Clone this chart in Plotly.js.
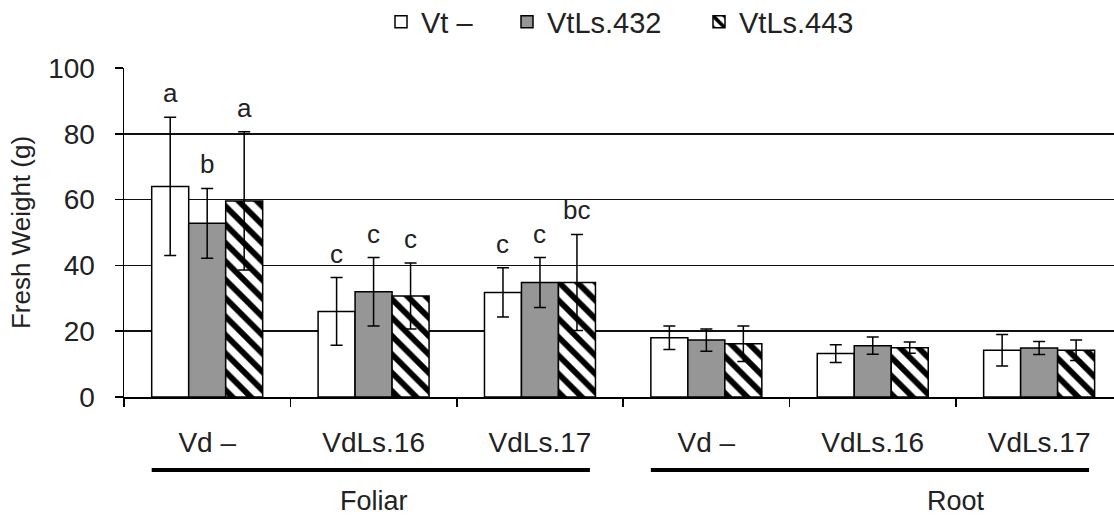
<!DOCTYPE html>
<html>
<head>
<meta charset="utf-8">
<script src="https://cdn.plot.ly/plotly-3.0.1.min.js"></script>
<style>html,body{margin:0;padding:0;background:#fff;}#chart{width:1114px;height:520px;}</style>
</head>
<body>
<div id="chart"></div>
<script>
// ---- data ----
const categories = ["Vd –", "VdLs.16", "VdLs.17", "Vd –", "VdLs.16", "VdLs.17"];
const groups = ["Foliar", "Foliar", "Foliar", "Root", "Root", "Root"];
const seriesNames = ["Vt –", "VtLs.432", "VtLs.443"];

const vtMinus = [64.0, 26.0, 31.8, 18.0, 13.2, 14.2];
const vtMinusErr = [21.0, 10.3, 7.5, 3.6, 2.7, 4.8];
const vtLs432 = [52.8, 32.0, 34.8, 17.3, 15.6, 14.9];
const vtLs432Err = [10.6, 10.4, 7.6, 3.4, 2.6, 2.0];
const vtLs443 = [59.6, 30.7, 34.8, 16.2, 15.0, 14.2];
const vtLs443Err = [21.0, 10.0, 14.6, 5.4, 1.7, 3.1];

const lettersVt = ["a", "c", "c", "", "", ""];
const letters432 = ["b", "c", "c", "", "", ""];
const letters443 = ["a", "c", "bc", "", "", ""];

const yTickVals = [0, 20, 40, 60, 80, 100];

// ---- build ----
const xIds = categories.map((c, i) => groups[i] + "|" + c);
const FONT = "Liberation Sans, Arial, sans-serif";
const bargap = 0.333;
const barW = (1 - bargap) / 3;

const values = [vtMinus, vtLs432, vtLs443];
const errs = [vtMinusErr, vtLs432Err, vtLs443Err];
const letters = [lettersVt, letters432, letters443];
const legendIds = ["legend", "legend2", "legend3"];
const legendX = [381, 507, 699];

const markers = [
  {color: "#ffffff", line: {color: "#000", width: 1.5}},
  {color: "#969696", line: {color: "#000", width: 1.5}},
  {color: "#ffffff", line: {color: "#000", width: 1.5},
   pattern: {shape: "\\", fgcolor: "#000", bgcolor: "#fff", size: 13, solidity: 0.45, fillmode: "replace"}}
];

const traces = seriesNames.map((name, k) => ({
  type: "bar",
  name: name,
  legend: legendIds[k],
  x: xIds,
  y: values[k],
  marker: markers[k],
  error_y: {type: "data", array: errs[k], visible: true, color: "#000", thickness: 1.5, width: 6},
  hoverinfo: "skip"
}));

const annotations = [];
letters.forEach((arr, k) => {
  arr.forEach((t, i) => {
    if (!t) return;
    annotations.push({
      x: i + (k - 1) * barW, y: values[k][i] + errs[k][i],
      xref: "x", yref: "y", text: t, showarrow: false,
      yanchor: "bottom", yshift: 7,
      font: {family: FONT, size: 26, color: "#222"}
    });
  });
});

// group labels under the axis
const groupNames = [...new Set(groups)];
const shapes = [];
groupNames.forEach(g => {
  const idx = groups.map((v, i) => v === g ? i : -1).filter(i => i >= 0);
  const first = idx[0], last = idx[idx.length - 1];
  shapes.push({
    type: "line", xref: "x", yref: "paper",
    x0: first - 1.5 * barW, x1: last + 1.35 * barW, y0: -0.222, y1: -0.222,
    line: {color: "#000", width: 4}
  });
});
annotations.push({x: 1, y: -0.316, xref: "x", yref: "paper", text: "Foliar", showarrow: false,
  yanchor: "middle", font: {family: FONT, size: 27, color: "#222"}});
annotations.push({x: 4.5, y: -0.316, xref: "x", yref: "paper", text: "Root", showarrow: false,
  yanchor: "middle", font: {family: FONT, size: 27, color: "#222"}});

const layout = {
  width: 1114, height: 520,
  margin: {l: 124, r: 0, t: 68, b: 123},
  paper_bgcolor: "#fff", plot_bgcolor: "#fff",
  barmode: "group", bargap: bargap, bargroupgap: 0,
  font: {family: FONT, color: "#222"},
  showlegend: true,
  xaxis: {
    type: "category", categoryorder: "array", categoryarray: xIds,
    tickmode: "array", tickvals: xIds, ticktext: categories,
    tickson: "boundaries", ticks: "outside", ticklen: 8, tickwidth: 1.5, tickcolor: "#000",
    ticklabelstandoff: 20,
    showline: true, linecolor: "#000", linewidth: 1.5,
    showgrid: false, zeroline: false,
    range: [-0.5, 5.45], fixedrange: true,
    tickfont: {family: FONT, size: 28, color: "#222"}
  },
  yaxis: {
    range: [0, 100], tickmode: "array", tickvals: yTickVals,
    ticks: "outside", ticklen: 8, tickwidth: 1.5, tickcolor: "#000",
    ticklabelstandoff: 14,
    showline: true, linecolor: "#000", linewidth: 1.5,
    showgrid: true, gridcolor: "#111", gridwidth: 1.5, zeroline: false,
    tickfont: {family: FONT, size: 28, color: "#222"},
    title: {text: "Fresh Weight (g)", font: {family: FONT, size: 26, color: "#222"}, standoff: 10}
  },
  annotations: annotations,
  shapes: shapes
};
legendIds.forEach((id, k) => {
  layout[id] = {
    orientation: "h", xref: "container", yref: "container",
    x: legendX[k] / 1114, xanchor: "left", y: 1 - 22 / 520, yanchor: "middle",
    font: {family: FONT, size: 29, color: "#222"},
    bgcolor: "rgba(0,0,0,0)"
  };
});

Plotly.newPlot("chart", traces, layout, {displayModeBar: false, staticPlot: true});
</script>
</body>
</html>
